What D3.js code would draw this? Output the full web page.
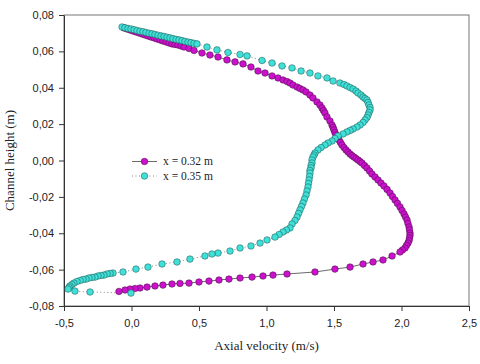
<!DOCTYPE html>
<html><head><meta charset="utf-8">
<script src="https://cdn.jsdelivr.net/npm/d3@7"></script>
<style>body{margin:0;background:#fff}svg{display:block}</style>
</head><body><svg id="c" width="480" height="364"></svg>
<script>
const xTicks = [-0.5, 0, 0.5, 1, 1.5, 2, 2.5];
const yTicks = [-0.08, -0.06, -0.04, -0.02, 0, 0.02, 0.04, 0.06, 0.08];
const seriesNames = ["x = 0.32 m", "x = 0.35 m"];
const xTitle = "Axial velocity (m/s)";
const yTitle = "Channel height (m)";

// [axial velocity, channel height] for x = 0.32 m
const series032 = [
[-0.056,0.0729],[-0.033,0.0723],[-0.011,0.0718],[0.011,0.0712],[0.033,0.0707],[0.056,0.0701],[0.078,0.0696],[0.100,0.0690],
[0.122,0.0685],[0.144,0.0679],[0.167,0.0674],[0.189,0.0668],[0.211,0.0663],[0.233,0.0657],[0.256,0.0652],[0.278,0.0646],
[0.300,0.0641],[0.322,0.0638],[0.344,0.0635],[0.367,0.0630],[0.389,0.0624],[0.426,0.0616],[0.463,0.0605],[0.522,0.0591],
[0.581,0.0580],[0.641,0.0569],[0.707,0.0553],[0.767,0.0542],[0.826,0.0531],[0.885,0.0514],[0.937,0.0492],[0.989,0.0481],
[1.041,0.0465],[1.085,0.0454],[1.122,0.0443],[1.152,0.0434],[1.174,0.0426],[1.196,0.0415],[1.226,0.0404],[1.248,0.0396],
[1.270,0.0388],[1.293,0.0377],[1.322,0.0360],[1.344,0.0344],[1.374,0.0322],[1.396,0.0305],[1.411,0.0289],[1.422,0.0275],
[1.433,0.0261],[1.448,0.0239],[1.470,0.0217],[1.485,0.0195],[1.493,0.0182],[1.500,0.0168],[1.507,0.0154],[1.515,0.0140],
[1.526,0.0126],[1.537,0.0113],[1.548,0.0099],[1.559,0.0085],[1.574,0.0071],[1.589,0.0058],[1.604,0.0047],[1.619,0.0036],
[1.633,0.0027],[1.648,0.0019],[1.663,0.0011],[1.678,0.0003],[1.693,-0.0006],[1.707,-0.0014],[1.726,-0.0028],[1.744,-0.0041],
[1.763,-0.0058],[1.781,-0.0074],[1.804,-0.0091],[1.826,-0.0107],[1.848,-0.0124],[1.870,-0.0140],[1.893,-0.0159],[1.915,-0.0179],
[1.933,-0.0198],[1.952,-0.0217],[1.970,-0.0236],[1.989,-0.0256],[2.004,-0.0275],[2.019,-0.0294],[2.030,-0.0311],[2.041,-0.0327],
[2.048,-0.0346],[2.056,-0.0366],[2.059,-0.0382],[2.063,-0.0399],[2.063,-0.0412],[2.059,-0.0426],[2.056,-0.0440],[2.048,-0.0454],
[2.037,-0.0467],[2.026,-0.0481],[2.007,-0.0492],[1.989,-0.0503],[1.930,-0.0525],[1.863,-0.0547],[1.789,-0.0558],[1.715,-0.0569],
[1.619,-0.0586],[1.507,-0.0597],[1.359,-0.0613],[1.152,-0.0624],[1.048,-0.0630],[0.974,-0.0635],[0.893,-0.0641],[0.804,-0.0646],
[0.722,-0.0652],[0.648,-0.0657],[0.574,-0.0663],[0.500,-0.0668],[0.426,-0.0674],[0.359,-0.0676],[0.300,-0.0679],[0.233,-0.0685],
[0.174,-0.0690],[0.115,-0.0696],[0.063,-0.0701],[0.026,-0.0704],[-0.011,-0.0707],[-0.048,-0.0712],[-0.093,-0.0720]
];

// [axial velocity, channel height] for x = 0.35 m
const series035 = [
[-0.070,0.0734],[-0.048,0.0730],[-0.026,0.0726],[-0.004,0.0723],[0.019,0.0719],[0.041,0.0715],[0.063,0.0711],[0.085,0.0708],
[0.107,0.0704],[0.130,0.0700],[0.152,0.0697],[0.174,0.0693],[0.196,0.0689],[0.219,0.0685],[0.241,0.0682],[0.263,0.0678],
[0.285,0.0674],[0.307,0.0670],[0.330,0.0666],[0.352,0.0663],[0.374,0.0659],[0.396,0.0655],[0.419,0.0651],[0.441,0.0648],
[0.463,0.0644],[0.485,0.0641],
[0.559,0.0624],[0.633,0.0608],[0.715,0.0594],[0.804,0.0583],[0.856,0.0575],[0.967,0.0550],[1.041,0.0536],[1.115,0.0520],
[1.189,0.0509],[1.256,0.0492],[1.322,0.0481],[1.381,0.0465],[1.448,0.0454],[1.493,0.0437],[1.544,0.0426],[1.574,0.0418],
[1.596,0.0410],[1.619,0.0401],[1.641,0.0393],[1.663,0.0382],[1.678,0.0371],[1.700,0.0360],[1.715,0.0349],[1.730,0.0341],
[1.744,0.0333],[1.752,0.0319],[1.759,0.0305],[1.767,0.0291],[1.767,0.0278],[1.759,0.0264],[1.752,0.0250],[1.744,0.0236],
[1.730,0.0223],[1.715,0.0209],[1.693,0.0195],[1.670,0.0184],[1.641,0.0173],[1.619,0.0165],[1.596,0.0157],[1.567,0.0146],
[1.530,0.0135],[1.507,0.0121],[1.485,0.0107],[1.456,0.0096],[1.433,0.0085],[1.404,0.0071],[1.381,0.0058],[1.359,0.0041],
[1.352,0.0030],[1.344,0.0019],[1.337,0.0003],[1.337,-0.0014],[1.330,-0.0028],[1.330,-0.0041],[1.322,-0.0055],[1.322,-0.0069],
[1.319,-0.0088],[1.315,-0.0107],[1.311,-0.0126],[1.307,-0.0146],[1.300,-0.0168],[1.293,-0.0190],[1.281,-0.0212],[1.270,-0.0234],
[1.259,-0.0253],[1.248,-0.0272],[1.237,-0.0291],[1.226,-0.0311],[1.211,-0.0330],[1.189,-0.0349],[1.174,-0.0371],[1.148,-0.0382],
[1.122,-0.0393],[1.093,-0.0407],[1.063,-0.0421],[1.004,-0.0437],[0.952,-0.0454],[0.885,-0.0470],[0.804,-0.0481],[0.730,-0.0498],
[0.641,-0.0509],[0.596,-0.0514],[0.544,-0.0525],[0.433,-0.0542],[0.337,-0.0558],[0.226,-0.0569],[0.122,-0.0586],[0.033,-0.0597],
[-0.063,-0.0613],
[-0.137,-0.0619],[-0.159,-0.0621],[-0.181,-0.0624],[-0.204,-0.0630],[-0.226,-0.0632],[-0.248,-0.0635],[-0.270,-0.0641],[-0.293,-0.0643],
[-0.315,-0.0646],[-0.337,-0.0652],[-0.359,-0.0654],[-0.381,-0.0660],[-0.404,-0.0665],[-0.426,-0.0674],[-0.441,-0.0682],[-0.456,-0.0690],
[-0.463,-0.0698],[-0.470,-0.0707],
[-0.419,-0.0718],[-0.307,-0.0723],[-0.004,-0.0729]
];

const colors = ["#cc11cc", "#3fe0d8"];

const svg = d3.select("#c");
const L = 64, R = 469, T = 15, B = 306;
const x = d3.scaleLinear().domain([-0.5, 2.5]).range([L, R]);
const y = d3.scaleLinear().domain([-0.08, 0.08]).range([B, T]);

const fmt = (p) => (d) => d3.format("." + p + "f")(d).replace(".", ",").replace("\u2212", "-");

// frame
svg.append("rect").attr("x", L).attr("y", T).attr("width", R - L).attr("height", B - T)
  .attr("fill", "none").attr("stroke", "#777").attr("stroke-width", 1);

const gx = svg.append("g").attr("transform", `translate(0,${B})`)
  .call(d3.axisBottom(x).tickValues(xTicks).tickSize(5).tickSizeOuter(0).tickPadding(8).tickFormat(fmt(1)));
const gy = svg.append("g").attr("transform", `translate(${L},0)`)
  .call(d3.axisLeft(y).tickValues(yTicks).tickSize(5).tickSizeOuter(0).tickPadding(5).tickFormat(fmt(2)));
[gx, gy].forEach(g => {
  g.selectAll("path.domain").attr("stroke", "#333");
  g.selectAll("line").attr("stroke", "#333");
  g.selectAll("text").attr("font-family", "'Liberation Sans', Arial, sans-serif").attr("font-size", 11).attr("fill", "#222");
});

// titles
svg.append("text").attr("x", (L + R) / 2).attr("y", 350).attr("text-anchor", "middle")
  .attr("font-family", "'Liberation Serif', 'Times New Roman', serif").attr("font-size", 13).attr("fill", "#222").text(xTitle);
svg.append("text").attr("transform", `translate(13.5,${(T + B) / 2}) rotate(-90)`).attr("text-anchor", "middle")
  .attr("font-family", "'Liberation Serif', 'Times New Roman', serif").attr("font-size", 13).attr("fill", "#222").text(yTitle);

const line = d3.line().x(d => x(d[0])).y(d => y(d[1]));

// series 0.32: solid line
svg.append("path").datum(series032).attr("d", line).attr("fill", "none").attr("stroke", "#444").attr("stroke-width", 0.8);
svg.append("g").selectAll("circle").data(series032).join("circle")
  .attr("cx", d => x(d[0])).attr("cy", d => y(d[1])).attr("r", 3.3)
  .attr("fill", colors[0]).attr("stroke", "#3a103a").attr("stroke-width", 0.5);

// series 0.35: dotted line
svg.append("path").datum(series035).attr("d", line).attr("fill", "none").attr("stroke", "#666")
  .attr("stroke-width", 0.8).attr("stroke-dasharray", "1,2.5");
svg.append("g").selectAll("circle").data(series035).join("circle")
  .attr("cx", d => x(d[0])).attr("cy", d => y(d[1])).attr("r", 3.3)
  .attr("fill", colors[1]).attr("stroke", "#1f4f4c").attr("stroke-width", 0.5);

// legend
const leg = svg.append("g");
seriesNames.forEach((name, i) => {
  const ly = 161.5 + i * 14.5;
  leg.append("line").attr("x1", 132).attr("x2", 157).attr("y1", ly).attr("y2", ly)
    .attr("stroke", i === 0 ? "#444" : "#666").attr("stroke-width", 0.8)
    .attr("stroke-dasharray", i === 0 ? null : "1,2.5");
  leg.append("circle").attr("cx", 144.5).attr("cy", ly).attr("r", 3.3)
    .attr("fill", colors[i]).attr("stroke", i === 0 ? "#3a103a" : "#1f4f4c").attr("stroke-width", 0.5);
  leg.append("text").attr("x", 163).attr("y", ly + 3.8)
    .attr("font-family", "'Liberation Serif', 'Times New Roman', serif").attr("font-size", 11.5).attr("fill", "#222").text(name);
});
</script></body></html>
